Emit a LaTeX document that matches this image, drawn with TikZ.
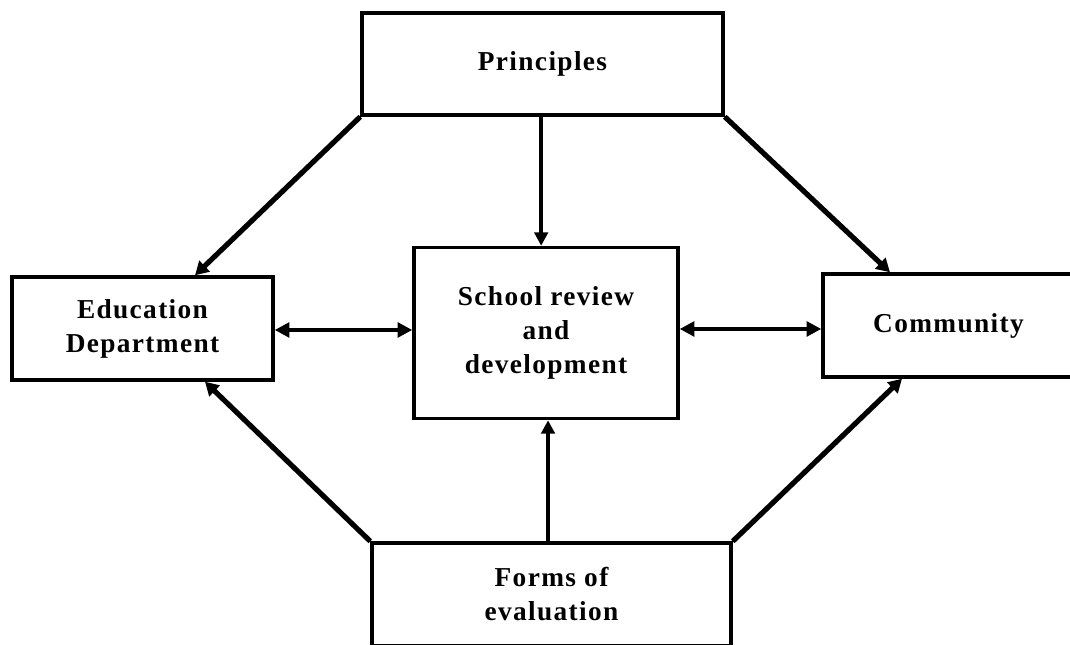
\documentclass[tikz,border=0pt]{standalone}
\usepackage{fontspec}
\setmainfont{Liberation Serif}[LetterSpace=5]
\usetikzlibrary{arrows.meta}
\begin{document}
\begin{tikzpicture}[x=0.75pt,y=-0.75pt,
  box/.style={draw=black,line width=2.6pt,fill=white,align=center,inner sep=0pt,
    font=\bfseries\fontsize{20.5}{25.5}\selectfont},
  arr/.style={line width=3.9pt,-{Triangle[length=10pt,width=11pt]}},
  darr/.style={line width=3.4pt,{Triangle[length=11pt,width=11pt]}-{Triangle[length=11pt,width=11pt]}},
  varr/.style={-{Triangle[length=10pt,width=10pt]}}]
\useasboundingbox (0,0) rectangle (1070,644);
\clip (0,0) rectangle (1070,644);
\fill[white] (0,0) rectangle (1070,644);
\node[box,minimum width=270.75pt,minimum height=76.5pt] (P) at (542.5,64) {Principles};
\node[box,minimum width=195.75pt,minimum height=77.25pt] (E) at (142.5,328.5) {Education\\Department};
\node[box,minimum width=198pt,minimum height=128.25pt] (S) at (546,333) {School review\\and\\development};
\node[box,minimum width=188.25pt,minimum height=77.25pt] (C) at (948.5,325.5) {Community};
\node[box,minimum width=269.25pt,minimum height=77.25pt] (F) at (551.5,594.5) {Forms of\\evaluation};
% from Principles
\draw[arr] (P.south west) -- ([xshift=39.4pt]E.north);
\draw[arr] (P.south east) -- ([xshift=-43.9pt]C.north);
\draw[varr,line width=2.6pt] ([xshift=-1pt]P.south) -- ([xshift=-1pt]P.south |- S.north);
% from Forms
\draw[arr] (F.north west) -- ([xshift=46.9pt]E.south);
\draw[arr] (F.north east) -- ([xshift=-34.9pt]C.south);
\draw[varr,line width=3.4pt] ([xshift=-2.6pt]F.north) -- ([xshift=-2.6pt]F.north |- S.south);
% horizontal
\draw[darr] ([yshift=-1.1pt]E.east) -- ([yshift=-1.1pt]E.east -| S.west);
\draw[darr] ([yshift=-2.6pt]C.west -| S.east) -- ([yshift=-2.6pt]C.west);
\end{tikzpicture}
\end{document}
